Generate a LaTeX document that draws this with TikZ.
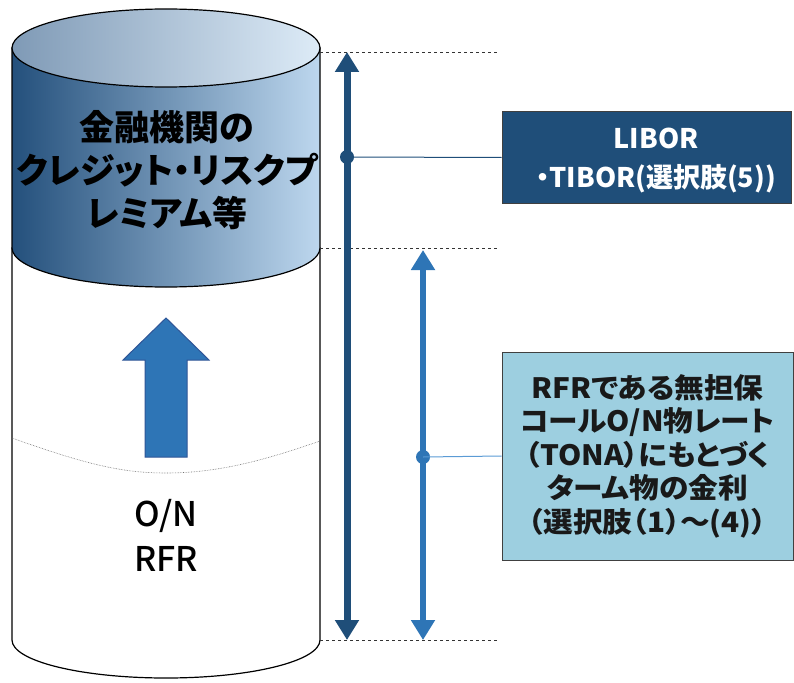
\documentclass[tikz,border=0pt]{standalone}
\usepackage{fontspec}
\setmainfont{Noto Sans CJK JP}
\newfontfamily\jpprop{Noto Sans CJK JP}[RawFeature=+palt]
\newfontfamily\jpwide{Noto Sans CJK JP}[RawFeature=+palt, FakeStretch=1.06]
\newfontfamily\jpmed{Noto Sans CJK JP Medium}
\usetikzlibrary{arrows.meta}
\definecolor{darkblue}{HTML}{1F4E79}
\definecolor{midblue}{HTML}{2E75B6}
\definecolor{edgeblue}{HTML}{2F5597}
\definecolor{lineblue}{HTML}{5B9BD5}
\definecolor{boxcyan}{HTML}{9DCFE0}
\definecolor{sidedark}{HTML}{24507C}
\definecolor{sidelight}{HTML}{BDD7EE}
\definecolor{capdark}{HTML}{7F9AB6}
\definecolor{caplight}{HTML}{DDEBF7}
\tikzset{
  cyl/.style={draw=black, line width=1.2pt},
  guide/.style={draw=black!80, dashed, line width=0.7pt},
  bigtext/.style={align=center, text=black, font=\jpprop\bfseries\fontsize{35}{43}\selectfont},
  ontext/.style={align=center, text=black, font=\jpmed\fontsize{34}{45}\selectfont},
  libbox/.style={draw=black!75, line width=1pt, fill=darkblue,
    minimum width=289pt, minimum height=91pt, inner sep=0pt},
  libtext/.style={text=white, align=center, inner sep=0pt,
    font=\jpprop\bfseries\fontsize{27}{39}\selectfont},
  rfrbox/.style={draw=black!75, line width=1pt, fill=boxcyan, text=black!90, align=center,
    minimum width=291pt, minimum height=208pt, inner sep=0pt,
    font=\jpwide\bfseries\fontsize{28}{33.5}\selectfont},
  dot/.style={circle, inner sep=0pt, minimum size=14pt},
}
\begin{document}
\begin{tikzpicture}[x=1pt, y=-1pt]
\useasboundingbox (0,0) rectangle (794,682);
% lower white cylinder
\path[cyl, fill=white] (12,248) -- (12,640) arc[start angle=180, end angle=0, x radius=154, y radius=38] -- (320,248) -- cycle;
% wavy dotted line
\draw[black!55, densely dotted, line width=0.6pt] (12,438) .. controls (90,466) and (125,473) .. (166,473) .. controls (215,473) and (260,462) .. (320,441);
% upper shaded band
\path[cyl, left color=sidedark, right color=sidelight] (12,48) -- (12,248) arc[start angle=180, end angle=0, x radius=154, y radius=39] -- (320,48) -- cycle;
\path[cyl, left color=capdark, right color=caplight] (166,48) ellipse[x radius=154, y radius=39];
% block arrow
\path[fill=midblue, draw=edgeblue, line width=1pt] (166,318) -- (209,360) -- (187,360) -- (187,457) -- (145,457) -- (145,360) -- (123,360) -- cycle;
% texts in cylinder
\node[bigtext] (premium) at (167,170) {金融機関の\\クレジット・リスクプ\\レミアム等};
\node[ontext] (onrfr) at (166,535) {O/N\\RFR};
% boxes
\node[libbox] (libor) at (646.5,157.5) {};
\node[libtext] (libortext) at (656,161) {LIBOR\\・TIBOR(選択肢(5))};
\node[rfrbox] (rfr) at (647.5,456) {RFRである無担保\\コールO/N物レート\\（TONA）にもとづく\\ターム物の金利\\（選択肢（1）～(4)）};
% guide coordinates
\coordinate (g1a) at (320,52); \coordinate (g1b) at (497,52);
\coordinate (g2a) at (320,248); \coordinate (g2b) at (497,248);
\coordinate (g3a) at (320,640); \coordinate (g3b) at (497,640);
\draw[guide] (g1a) -- (g1b);
\draw[guide] (g2a) -- (g2b);
\draw[guide] (g3a) -- (g3b);
% dimension arrows
\coordinate (dTop) at (347,52); \coordinate (dBot) at (347,640);
\coordinate (lTop) at (423,250); \coordinate (lBot) at (423,640);
\draw[darkblue, line width=7pt, {Triangle[width=23pt,length=20pt]}-{Triangle[width=23pt,length=20pt]}] (dTop) -- (dBot);
\draw[midblue, line width=6.5pt, {Triangle[width=23pt,length=20pt]}-{Triangle[width=23pt,length=20pt]}] (lTop) -- (lBot);
\node[dot, fill=darkblue] (dDot) at (347,157) {};
\node[dot, fill=midblue] (lDot) at (423,457) {};
\draw[darkblue, line width=1pt] (dDot.center) -- (libor.west);
\draw[lineblue, line width=1pt] (lDot.center) -- (rfr.west);
\end{tikzpicture}
\end{document}
